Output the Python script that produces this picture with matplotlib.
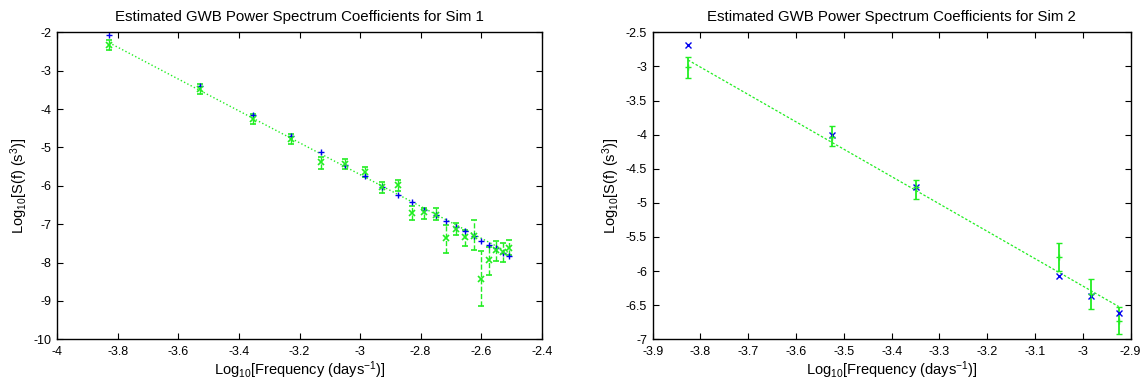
import numpy as np
import matplotlib
matplotlib.use('Agg')
import matplotlib.pyplot as plt
from matplotlib.ticker import FormatStrFormatter

plt.rcParams['font.family'] = ['Liberation Sans', 'DejaVu Sans']
plt.rcParams['mathtext.default'] = 'regular'
plt.rcParams['axes.unicode_minus'] = False
plt.rcParams['font.size'] = 9

GREEN = '#22ee22'

# Sim 1: log10 frequency for harmonics 1..21
freq1 = [-3.829, -3.528, -3.352, -3.227, -3.130, -3.051, -2.984, -2.926,
         -2.875, -2.829, -2.788, -2.750, -2.715, -2.683, -2.653, -2.625,
         -2.599, -2.574, -2.550, -2.528, -2.507]
inj1 = [-2.08, -3.39, -4.15, -4.70, -5.13, -5.46, -5.75, -6.03, -6.23,
        -6.43, -6.62, -6.75, -6.91, -7.07, -7.19, -7.30, -7.43, -7.53,
        -7.63, -7.74, -7.83]
est1 = [-2.33, -3.48, -4.27, -4.78, -5.39, -5.42, -5.63, -6.03, -5.98,
        -6.70, -6.68, -6.76, -7.37, -7.13, -7.33, -7.31, -8.43, -7.94,
        -7.68, -7.73, -7.61]
lo1 = [-2.46, -3.62, -4.40, -4.91, -5.55, -5.57, -5.77, -6.20, -6.13,
       -6.90, -6.86, -6.90, -7.75, -7.29, -7.57, -7.66, -9.12, -8.33,
       -7.96, -7.98, -7.81]
hi1 = [-2.20, -3.34, -4.14, -4.65, -5.24, -5.29, -5.50, -5.90, -5.85,
       -6.53, -6.57, -6.59, -7.03, -6.97, -7.16, -6.90, -7.70, -7.59,
       -7.43, -7.50, -7.40]
fit1_x = [-3.829, -2.507]
fit1_y = [-2.27, -7.75]

# Sim 2
freq2 = [-3.826, -3.525, -3.350, -3.050, -2.982, -2.925]
inj2 = [-2.69, -4.00, -4.77, -6.07, -6.36, -6.62]
est2 = [-3.01, -4.04, -4.77, -5.80, -6.34, -6.73]
lo2 = [-3.17, -4.17, -4.95, -6.00, -6.56, -6.92]
hi2 = [-2.86, -3.88, -4.66, -5.59, -6.12, -6.53]
fit2_x = [-3.826, -2.925]
fit2_y = [-2.906, -6.52]

fig = plt.figure(figsize=(11.46, 3.88), dpi=100)
ax1 = fig.add_axes([0.05, 0.1255, 0.4227, 0.7912])
ax2 = fig.add_axes([0.5695, 0.1255, 0.4171, 0.7912])


def err(est, lo, hi):
    est = np.array(est)
    return [est - np.array(lo), np.array(hi) - est]


# left panel
ax1.plot(fit1_x, fit1_y, ':', color=GREEN, lw=1.0)
eb = ax1.errorbar(freq1, est1, yerr=err(est1, lo1, hi1), fmt='x', color=GREEN,
                  ms=4, mew=1.2, elinewidth=1.0, capsize=2, capthick=1.0)
eb[2][0].set_linestyle('--')
ax1.plot(freq1, inj1, '+', color='#0000ee', ms=4, mew=1.0)
ax1.set_xlim(-4, -2.4)
ax1.set_ylim(-10, -2)
ax1.set_xticks(np.arange(-4, -2.39, 0.2))
ax1.set_yticks(np.arange(-10, -1.9, 1))
ax1.xaxis.set_major_formatter(FormatStrFormatter('%g'))
ax1.yaxis.set_major_formatter(FormatStrFormatter('%g'))
ax1.set_title('Estimated GWB Power Spectrum Coefficients for Sim 1', pad=8)

# right panel
ax2.plot(fit2_x, fit2_y, '--', color=GREEN, lw=0.9, dashes=(2, 1.5))
ax2.errorbar(freq2, est2, yerr=err(est2, lo2, hi2), fmt='+', color=GREEN,
             ms=4, mew=1.0, elinewidth=1.3, capsize=2.5, capthick=1.0)
ax2.plot(freq2, inj2, 'x', color='#0000ee', ms=4, mew=1.0)
ax2.set_xlim(-3.9, -2.9)
ax2.set_ylim(-7, -2.5)
ax2.set_xticks(np.arange(-3.9, -2.89, 0.1))
ax2.set_yticks(np.arange(-7, -2.49, 0.5))
ax2.xaxis.set_major_formatter(FormatStrFormatter('%g'))
ax2.yaxis.set_major_formatter(FormatStrFormatter('%g'))
ax2.set_title('Estimated GWB Power Spectrum Coefficients for Sim 2', pad=8)

for ax in (ax1, ax2):
    ax.tick_params(direction='in', top=True, right=True, length=4, width=0.8,
                   labelsize=9)
    ax.tick_params(axis='x', pad=5)
    ax.tick_params(axis='y', pad=4)
    for s in ax.spines.values():
        s.set_linewidth(1.0)
    ax.set_xlabel('Log$_{10}$[Frequency (days$^{-1}$)]', fontsize=10.5,
                  labelpad=1)
    ax.set_ylabel('Log$_{10}$[S(f) (s$^3$)]', fontsize=10.5, labelpad=3)

fig.savefig('out.png', dpi=100)
